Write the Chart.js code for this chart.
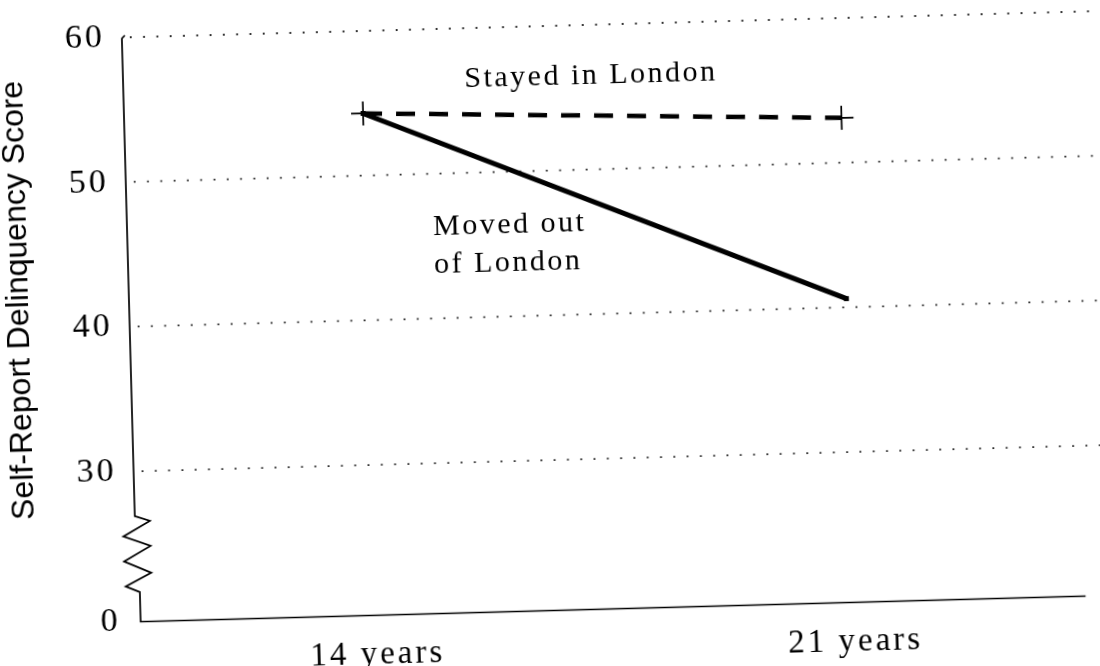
<!DOCTYPE html>
<html>
<head>
<meta charset="utf-8">
<script src="https://cdn.jsdelivr.net/npm/chart.js@4.4.1/dist/chart.umd.min.js"></script>
<style>
  html, body { margin: 0; padding: 0; background: #fff; overflow: hidden; }
  #wrap { width: 1100px; height: 666px; transform: rotate(-1.55deg); transform-origin: 550px 333px; }
</style>
</head>
<body>
<div id="wrap"><canvas id="c" width="1100" height="666"></canvas></div>
<script>
// ---- data ----
const ages = [14, 21];
const xTickLabels = ['14 years', '21 years'];
const stayedInLondon = [54.3, 53.1];
const movedOutOfLondon = [54.3, 40.6];
const yTicks = [30, 40, 50, 60];
const yBreakLabel = '0';
const yAxisTitle = 'Self-Report Delinquency Score';
const stayedLabel = 'Stayed in London';
const movedLabel = ['Moved out', 'of London'];

// axis layout constants
const Y_BOTTOM = 19.6;   // position where the broken axis reaches "0"
const Y_BREAK = 26.9;    // where the zig-zag break starts

const serif = '"Liberation Serif", "Times New Roman", serif';
const sans = '"Liberation Sans", Arial, sans-serif';

const decor = {
  id: 'decor',
  beforeDraw(chart) {
    chart.ctx.letterSpacing = '3px';
  },
  beforeDatasetsDraw(chart) {
    const { ctx, chartArea: a, scales: { y } } = chart;
    ctx.save();
    // dotted grid lines
    ctx.strokeStyle = '#222';
    ctx.lineWidth = 1.8;
    ctx.setLineDash([1.8, 11.5]);
    yTicks.forEach(v => {
      const py = y.getPixelForValue(v);
      ctx.beginPath();
      ctx.moveTo(a.left + 8, py);
      ctx.lineTo(chart.width, py);
      ctx.stroke();
    });
    ctx.setLineDash([]);
    // axis with break
    const ax = a.left;
    const yb = y.getPixelForValue(Y_BREAK);
    ctx.strokeStyle = '#000';
    ctx.lineWidth = 1.7;
    ctx.lineJoin = 'miter';
    ctx.beginPath();
    ctx.moveTo(ax + 3, y.getPixelForValue(60) - 2);
    ctx.lineTo(ax, y.getPixelForValue(60) + 1);
    ctx.lineTo(ax, yb);
    const zig = [[15, 5], [-12, 20], [15, 30], [-12, 45], [15, 57], [-11, 70], [3, 76]];
    zig.forEach(([dx, dy]) => ctx.lineTo(ax + dx, yb + dy));
    ctx.lineTo(ax + 3, a.bottom);
    ctx.lineTo(a.right - 8, a.bottom);
    ctx.stroke();
    ctx.restore();
  },
  afterDraw(chart) {
    const { ctx, scales: { x, y } } = chart;
    ctx.save();
    ctx.fillStyle = '#000';
    // annotations
    ctx.font = '30px ' + serif;
    ctx.letterSpacing = '2.5px';
    ctx.textBaseline = 'alphabetic';
    ctx.textAlign = 'center';
    ctx.fillText(stayedLabel, x.getPixelForValue(17.35), y.getPixelForValue(55.9));
    ctx.textAlign = 'left';
    ctx.fillText(movedLabel[0], x.getPixelForValue(14.98), y.getPixelForValue(45.77));
    ctx.fillText(movedLabel[1], x.getPixelForValue(14.98), y.getPixelForValue(43.14));
    // y title
    ctx.letterSpacing = '0px';
    ctx.font = '32px ' + sans;
    ctx.textAlign = 'center';
    ctx.textBaseline = 'middle';
    ctx.translate(20, 286);
    ctx.rotate(-Math.PI / 2);
    ctx.fillText(yAxisTitle, 0, 0);
    ctx.restore();
  }
};

new Chart(document.getElementById('c'), {
  type: 'line',
  data: {
    datasets: [
      {
        label: 'Moved out of London',
        data: ages.map((a, i) => ({ x: a, y: movedOutOfLondon[i] })),
        borderColor: '#000',
        backgroundColor: '#000',
        borderWidth: 5,
        pointStyle: 'rect',
        pointRadius: 3.5,
        pointBorderWidth: 0,
        tension: 0,
        clip: false
      },
      {
        label: 'Stayed in London',
        data: ages.map((a, i) => ({ x: a, y: stayedInLondon[i] })),
        borderColor: '#000',
        backgroundColor: '#000',
        borderWidth: 4.5,
        borderDash: [19, 14],
        pointStyle: 'cross',
        pointRadius: 12,
        pointBorderWidth: 1.7,
        pointBorderColor: '#000',
        tension: 0,
        clip: false
      }
    ]
  },
  options: {
    responsive: false,
    devicePixelRatio: 1,
    animation: false,
    events: [],
    layout: { padding: { left: 0, top: 26, right: 8, bottom: 0 } },
    plugins: { legend: { display: false }, tooltip: { enabled: false } },
    scales: {
      x: {
        type: 'linear',
        min: 10.5,
        max: 24.5,
        grid: { display: false },
        border: { display: false },
        afterBuildTicks: s => { s.ticks = ages.map(v => ({ value: v })); },
        afterFit: s => { s.height = 55.5; s.paddingLeft = 0; s.paddingRight = 0; },
        ticks: {
          autoSkip: false,
          maxRotation: 0,
          padding: 12,
          color: '#000',
          font: { family: serif, size: 33 },
          callback: v => xTickLabels[ages.indexOf(v)]
        }
      },
      y: {
        type: 'linear',
        min: Y_BOTTOM,
        max: 60,
        grid: { display: false },
        border: { display: false },
        afterBuildTicks: s => { s.ticks = [Y_BOTTOM, ...yTicks].map(v => ({ value: v })); },
        afterFit: s => { s.width = 130; s.paddingTop = 0; s.paddingBottom = 0; },
        ticks: {
          padding: 9,
          color: '#000',
          font: { family: serif, size: 34 },
          callback: v => (v === Y_BOTTOM ? yBreakLabel : String(v))
        }
      }
    }
  },
  plugins: [decor]
});
</script>
</body>
</html>
